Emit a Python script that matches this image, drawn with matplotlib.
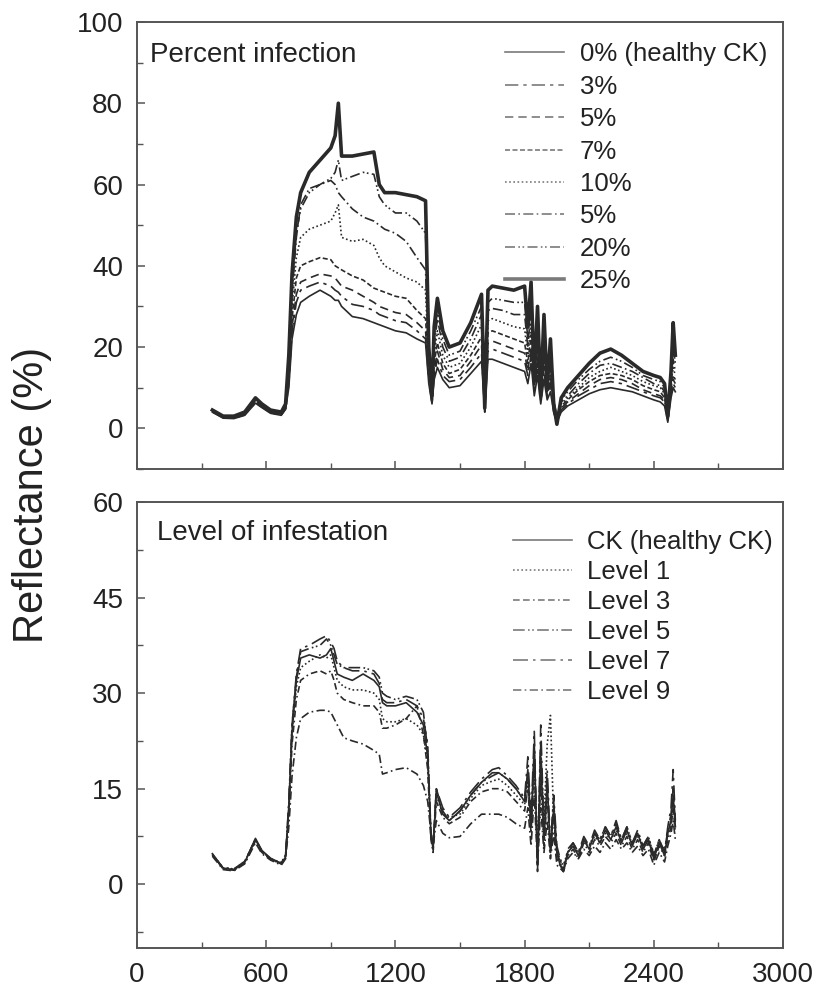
import numpy as np
import matplotlib.pyplot as plt
from matplotlib.ticker import MultipleLocator

plt.rcParams['font.family'] = ['Liberation Sans', 'DejaVu Sans']
plt.rcParams['text.color'] = '#222222'

# ---- top panel: percent infection ----
wl_top = [350, 400, 450, 500, 550, 580, 620, 670, 690, 705, 720, 740, 760, 800, 850,
          900, 920, 935, 950, 1000, 1050, 1100, 1125, 1150, 1200, 1250, 1300, 1340, 1355,
          1370, 1380, 1395, 1420, 1450, 1500, 1550, 1600, 1615, 1630, 1650, 1700, 1750,
          1800, 1815, 1830, 1845, 1860, 1875, 1890, 1905, 1920, 1935, 1950, 1970, 2000,
          2050, 2100, 2150, 2200, 2250, 2300, 2350, 2400, 2430, 2450, 2465, 2480, 2490, 2500]

inf_0 = [4, 2.5, 2.4, 3.2, 6.2, 5.1, 3.7, 3.2, 4.7, 10, 22, 28, 31, 32.5, 34,
         32.5, 31.5, 31.5, 30, 27.5, 27, 26, 25.5, 25, 24, 23.5, 22, 21, 11,
         6, 12, 15, 12, 10, 10.5, 13.5, 16.5, 4, 17, 17, 16, 15,
         14, 11, 16, 8, 13, 6, 12, 7, 9, 4, 1.5, 4, 5.5,
         7, 8.5, 9.5, 10, 9.5, 9, 8, 7, 6.5, 5.5, 1.5, 7.5, 10, 9]
inf_3 = [4, 2.6, 2.5, 3.3, 6.3, 5.2, 3.8, 3.3, 4.8, 11, 24, 31, 34, 35, 36,
         35, 34, 33.5, 32.5, 30.5, 30, 29, 28, 27.5, 26.5, 26, 24, 22, 12,
         6, 13, 17, 13, 11.5, 12, 15, 18.5, 4, 19, 19.5, 18.5, 17.5,
         16.5, 13, 18, 9, 15, 7, 14, 8, 11, 4, 1.5, 4.5, 6,
         8, 9.5, 11, 11.5, 11, 10, 9, 8, 7.5, 6.5, 2, 8.5, 11, 10]
inf_5a = [4.1, 2.7, 2.5, 3.4, 6.5, 5.3, 3.9, 3.4, 4.9, 12, 25, 33, 36, 37, 38,
          37.5, 37, 36, 35, 34, 32.5, 31, 30, 29.5, 28.5, 28, 26, 24, 13,
          6.5, 14, 19, 14.5, 12.5, 13, 16.5, 20.5, 5, 21, 21.5, 20.5, 19.5,
          18.5, 14, 20, 10, 17, 7, 15, 8, 12, 5, 2, 5, 6.5,
          8.5, 10.5, 12, 12.5, 12, 11, 9.5, 8.5, 8, 7, 2.5, 9, 12, 11]
inf_7 = [4.2, 2.8, 2.6, 3.5, 6.6, 5.4, 4, 3.5, 5, 13, 27, 37, 40, 41, 42,
         41.5, 40, 39.5, 39, 37.5, 36.5, 34.5, 34, 33.5, 32.5, 32, 29, 27, 14,
         7, 16, 21, 16, 13.5, 14.5, 18, 22.5, 5, 23.5, 24, 23, 22,
         21, 16, 23, 11, 19, 8, 17, 9, 13, 5, 2, 5.5, 7,
         9.5, 11.5, 13, 13.5, 13, 12, 10.5, 9.5, 9, 7.5, 3, 10, 13, 12]
inf_10 = [4.3, 2.8, 2.6, 3.6, 6.8, 5.5, 4.1, 3.6, 5.1, 14, 30, 42, 47, 49, 50,
          51, 53, 55, 47, 46, 46.5, 45, 42, 40, 38.5, 37, 36, 34, 15,
          7, 18, 24, 18, 15, 16, 20, 25.5, 6, 26.5, 27, 26, 25,
          24.5, 18, 26, 12, 22, 9, 19, 10, 15, 6, 2.5, 6, 7.5,
          10, 12.5, 14, 15, 14, 13, 11.5, 10.5, 10, 8.5, 3, 11, 15, 13]
inf_5b = [4.4, 2.9, 2.7, 3.7, 7, 5.6, 4.2, 3.7, 5.3, 15, 33, 47, 55, 59, 60,
          61, 60, 58, 57, 54, 52, 51, 50, 49, 48, 46, 42, 39, 16,
          8, 20, 27, 20, 16.5, 17.5, 22, 28, 5, 29, 29.5, 29, 28,
          28, 20, 30, 13, 25, 9, 22, 11, 17, 6, 3, 6.5, 8,
          11, 13.5, 15.5, 16, 15, 14, 12.5, 11, 10.5, 9, 4, 12, 17, 14]
inf_20 = [4.5, 3, 2.8, 3.8, 7.2, 5.8, 4.3, 3.8, 5.5, 16, 35, 48, 54, 58, 60,
          61.5, 63, 66, 61, 62, 63, 62.5, 57, 55, 53, 53, 51, 48, 18,
          9, 22, 29, 22, 18, 19, 24, 30, 6, 31, 32, 31.5, 31,
          31, 22, 33, 14, 27, 10, 25, 12, 19, 7, 3, 7, 9,
          12, 14.5, 16.5, 17.5, 16.5, 15, 13, 12, 11.5, 10, 4, 13, 20, 16]
inf_25 = [4.5, 3, 3, 4, 7.5, 6, 4.5, 4, 6, 18, 38, 52, 58, 63, 66,
          69, 72, 80, 67, 67, 67.5, 68, 60, 58, 58, 57.5, 57, 56, 20,
          8, 25, 32, 24, 20, 21, 26, 33, 5, 34, 35, 34.5, 34,
          35, 25, 36, 12, 30, 8, 28, 10, 22, 6, 1, 7.5, 10,
          13, 16, 18.5, 19.5, 18, 16, 14, 13, 12.5, 11, 3, 14, 26, 18]

top_labels = ['0% (healthy CK)', '3%', '5%', '7%', '10%', '5%', '20%', '25%']
top_series = [inf_0, inf_3, inf_5a, inf_7, inf_10, inf_5b, inf_20, inf_25]
top_styles = ['-', (0, (8, 3, 2, 3)), (0, (5, 3)), (0, (3, 1.5)), (0, (1, 1.5)),
              (0, (6, 2, 1, 2)), (0, (6, 2, 1, 1.5, 1, 2)), '-']
top_widths = [1.2, 1.2, 1.2, 1.2, 1.2, 1.2, 1.2, 2.6]

# ---- bottom panel: level of infestation ----
wl_bot = [350, 400, 450, 500, 550, 580, 620, 670, 690, 705, 720, 740, 760, 800, 850,
          880, 900, 915, 930, 960, 1000, 1050, 1100, 1125, 1140, 1160, 1200, 1250, 1300,
          1330, 1350, 1365, 1375, 1390, 1420, 1450, 1500, 1550, 1600, 1650, 1680, 1720,
          1760, 1800, 1815, 1830, 1845, 1860, 1875, 1890, 1905, 1920, 1935, 1950, 1965,
          1980, 2000, 2025, 2050, 2075, 2100, 2125, 2150, 2175, 2200, 2225, 2250, 2275,
          2300, 2325, 2350, 2375, 2400, 2425, 2450, 2465, 2480, 2490, 2500]

lvl_ck = [4.8, 2.5, 2.3, 3.4, 7.2, 5.3, 4.1, 3.2, 4.3, 12, 24, 32, 35.5, 36, 35.5,
          36, 37, 35, 33, 32.5, 32, 33, 32, 31, 28.5, 28, 28, 28.5, 27,
          25, 20, 8, 5.5, 14.5, 11, 10, 11.5, 14, 16, 17.5, 17.5, 16.5,
          15, 13, 18, 9, 22, 3, 20, 7, 16, 5, 12, 5, 3,
          2, 5, 6, 4.5, 7, 5.5, 8, 6.5, 8.5, 7, 9, 6.5, 8.5,
          6, 8, 5.5, 7, 4, 6.5, 4.5, 8, 10, 14, 9]
lvl_1 = [4.7, 2.6, 2.4, 3.5, 7, 5.2, 4, 3.4, 4.6, 12, 24, 31, 34, 35, 36,
         35.5, 36, 34, 32, 31, 30.5, 30.5, 30, 29, 26, 25.5, 25.5, 26, 25,
         23.5, 19, 8, 6, 14, 11, 10.5, 11, 13.5, 15.5, 16.2, 16.5, 15.5,
         14, 12.5, 16, 10, 18, 6, 20, 10, 22, 26.5, 10, 5, 4,
         3, 5, 6, 5, 6.5, 6, 7.5, 6.5, 8, 7, 8.5, 7, 8,
         6.5, 7.5, 6, 7, 5, 6.5, 5.5, 8, 9.5, 13, 9]
lvl_3 = [4.6, 2.4, 2.2, 3.3, 6.8, 5, 3.9, 3.2, 4.4, 11, 22, 29, 32, 33, 33.5,
         33, 33.5, 32, 30, 29, 28.5, 28, 28, 27, 24.5, 24.5, 25, 26, 28,
         23.5, 18, 7, 5, 13, 10.5, 9.5, 10.5, 13, 14.5, 15, 15, 14.5,
         13, 11.5, 15, 8, 20, 4, 16, 6, 14, 5, 11, 4, 3,
         2.5, 4.5, 5.5, 4, 6.5, 5, 7, 6, 7.5, 6.5, 8, 6, 7.5,
         5.5, 7, 5, 6.5, 3.5, 6, 4.5, 7, 9, 12, 8]
lvl_5 = [4.7, 2.5, 2.3, 3.5, 7.1, 5.2, 4, 3.3, 4.5, 12.5, 25, 32.5, 36.5, 37, 37.5,
         38.5, 37.5, 36, 34.5, 34, 34, 34, 33.5, 32.5, 30, 29.5, 29, 29.5, 29,
         27, 21, 7, 6, 15, 11.5, 10, 11.5, 14, 16, 17, 17.5, 16.5,
         15, 13, 17, 9, 21, 3, 22, 7, 15, 5, 13, 5, 3.5,
         2, 5, 6.5, 5, 7, 6, 8, 7, 9, 7.5, 9.5, 7, 9,
         6.5, 8, 6, 7.5, 4.5, 7, 5, 8.5, 11, 15, 9.5]
lvl_7 = [4.6, 2.6, 2.4, 3.6, 7, 5.2, 4, 3.3, 4.5, 13, 25, 33, 37, 37.5, 38.5,
         39, 38, 37, 35, 34, 33.5, 33.5, 33, 31.5, 29, 28.5, 28.5, 29, 28,
         26, 22, 8, 6, 15, 12, 10.5, 12, 14.5, 16.5, 18, 18.3, 17,
         15.5, 13.5, 20, 10, 24, 2, 25, 8, 18, 6, 14, 6, 4,
         2, 5.5, 6.5, 5, 7.5, 6, 8.5, 7, 9, 7.5, 10, 7, 9,
         6.5, 8.5, 6, 7.5, 4.5, 7, 5, 9, 12, 18, 10]
lvl_9 = [4.4, 2.3, 2.1, 3.2, 6.5, 4.8, 3.8, 3, 4, 9, 17, 23, 26, 27, 27.3,
         27.3, 27, 26, 25, 23, 22.5, 22, 21, 20.4, 17.3, 17.5, 18, 18.3, 17.3,
         15.5, 13, 8, 6, 10, 8, 7.3, 7.5, 9.5, 11, 11, 11, 10.5,
         9.5, 8.8, 12, 6, 14, 3, 12, 5, 10, 4, 8, 3, 2.5,
         2, 4, 5, 4, 5.5, 4.5, 6, 5, 6.5, 5.5, 7, 5.5, 6.5,
         5, 6, 4.5, 5.5, 3, 5, 3.5, 6, 8, 10, 7]

bot_labels = ['CK (healthy CK)', 'Level 1', 'Level 3', 'Level 5', 'Level 7', 'Level 9']
bot_series = [lvl_ck, lvl_1, lvl_3, lvl_5, lvl_7, lvl_9]
bot_styles = ['-', (0, (1, 1.5)), (0, (4, 2, 4, 2, 1, 2)), (0, (7, 2, 1, 1.5, 1, 2)),
              (0, (9, 3, 1.5, 3)), (0, (5, 2, 1, 2))]

line_color = '#2a2a2a'
spine_color = '#555555'


def style_axes(ax, ylim, ymajor, yminor):
    ax.set_xlim(0, 3000)
    ax.set_ylim(*ylim)
    ax.xaxis.set_major_locator(MultipleLocator(600))
    ax.xaxis.set_minor_locator(MultipleLocator(300))
    ax.yaxis.set_major_locator(MultipleLocator(ymajor))
    ax.yaxis.set_minor_locator(MultipleLocator(yminor))
    ax.tick_params(which='both', direction='in', colors=spine_color,
                   labelcolor='#222222', labelsize=20, pad=10)
    ax.tick_params(which='major', length=6, width=1.1)
    ax.tick_params(which='minor', length=4, width=1.0)
    for s in ax.spines.values():
        s.set_color(spine_color)
        s.set_linewidth(1.4)


def draw_legend(ax, anchor, spacing):
    leg = ax.legend(loc='upper left', bbox_to_anchor=anchor, frameon=False,
                    fontsize=18.5, handlelength=2.3, handletextpad=0.6,
                    labelspacing=spacing, borderpad=0, borderaxespad=0)
    for ln in leg.get_lines():
        ln.set_color('#7a7a7a')
    return leg


fig = plt.figure(figsize=(8.18, 9.94), dpi=100)
ax1 = fig.add_axes([0.1675, 0.5282, 0.7897, 0.4497])
ax2 = fig.add_axes([0.1675, 0.0463, 0.7897, 0.4487])

for vals, lab, ls, lw in zip(top_series, top_labels, top_styles, top_widths):
    ax1.plot(wl_top, vals, linestyle=ls, linewidth=lw, color=line_color, label=lab)
style_axes(ax1, (-10, 100), 20, 10)
ax1.tick_params(axis='x', labelbottom=False)
ax1.text(0.02, 0.955, 'Percent infection', transform=ax1.transAxes,
         fontsize=20, va='top', ha='left')
draw_legend(ax1, (0.57, 0.955), 0.33)

for vals, lab, ls in zip(bot_series, bot_labels, bot_styles):
    ax2.plot(wl_bot, vals, linestyle=ls, linewidth=1.2, color=line_color, label=lab)
style_axes(ax2, (-10, 60), 15, 7.5)
ax2.text(0.031, 0.96, 'Level of infestation', transform=ax2.transAxes,
         fontsize=20, va='top', ha='left')
draw_legend(ax2, (0.582, 0.937), 0.23)

fig.text(0.039, 0.502, 'Reflectance (%)', rotation=90, fontsize=30,
         va='center', ha='center', color='#222222')

fig.savefig('out.png', dpi=100)
